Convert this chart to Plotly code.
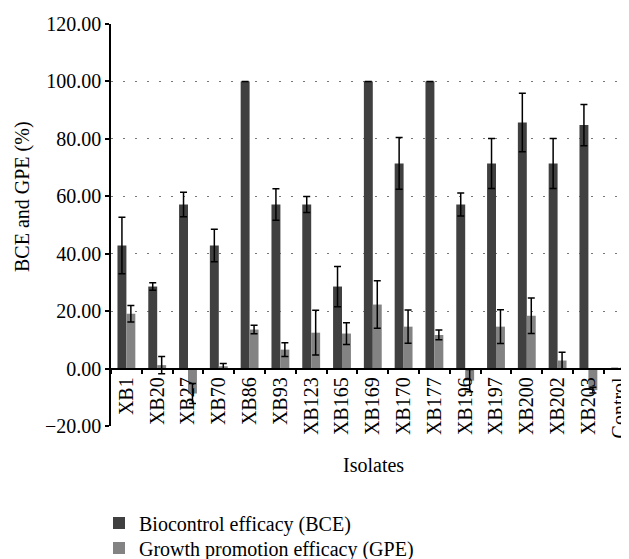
import plotly.graph_objects as go

isolates = ["XB1", "XB20", "XB27", "XB70", "XB86", "XB93", "XB123", "XB165", "XB169",
            "XB170", "XB177", "XB196", "XB197", "XB200", "XB202", "XB203", "Control"]
bce = [42.86, 28.57, 57.14, 42.86, 100, 57.14, 57.14, 28.57, 100,
       71.43, 100, 57.14, 71.43, 85.71, 71.43, 84.8, 0]
bce_err = [9.8, 1.3, 4.3, 5.7, 0, 5.5, 2.8, 7.0, 0,
           9.0, 0, 4.0, 8.7, 10.2, 8.7, 7.2, 0]
gpe = [19.1, 1.2, -8.7, 0.8, 13.6, 6.6, 12.5, 12.2, 22.3,
       14.6, 11.7, -4.2, 14.6, 18.4, 2.8, -7.5, 0]
gpe_err = [2.9, 3.0, 3.5, 1.0, 1.5, 2.4, 7.8, 3.8, 8.3,
           5.8, 1.7, 3.9, 5.9, 6.2, 2.9, 1.0, 0]
y_ticks = [-20, 0, 20, 40, 60, 80, 100, 120]
y_ticklabels = ["\u221220.00", "0.00", "20.00", "40.00", "60.00", "80.00", "100.00", "120.00"]

FONT = "Liberation Serif"
FS = 20
# page body has an 8px margin; figure sized so it fits the 629x559 window exactly
W, H = 621, 551
ML, MT, MB = 103, 16, 133
PW, PH = W - ML, H - MT - MB
CAT_W = 30.8

fig = go.Figure()
fig.add_trace(go.Bar(
    x=isolates, y=bce, name="Biocontrol efficacy (BCE)", legend="legend",
    marker=dict(color="#404040", line=dict(width=0)),
    error_y=dict(type="data", array=bce_err, visible=True, color="black",
                 thickness=1.5, width=3.5),
))
fig.add_trace(go.Bar(
    x=isolates, y=gpe, name="Growth promotion efficacy (GPE)", legend="legend2",
    marker=dict(color="#838383", line=dict(width=0)),
    error_y=dict(type="data", array=gpe_err, visible=True, color="black",
                 thickness=1.5, width=3.5),
))

ymin, ymax = -20, 120
zero_frac = (0 - ymin) / (ymax - ymin)

leg_common = dict(xref="container", yref="container", xanchor="left", yanchor="middle",
                  orientation="v", font=dict(family=FONT, size=FS), itemclick=False,
                  bgcolor="rgba(0,0,0,0)")

fig.update_layout(
    width=W, height=H,
    margin=dict(l=ML, r=0, t=MT, b=MB, pad=0, autoexpand=False),
    paper_bgcolor="white", plot_bgcolor="white",
    barmode="group", bargap=0.42, bargroupgap=0,
    font=dict(family=FONT, size=FS, color="black"),
    showlegend=True,
    legend=dict(x=91 / W, y=1 - 515 / H, **leg_common),
    legend2=dict(x=91 / W, y=1 - 540 / H, **leg_common),
    xaxis=dict(
        type="category",
        range=[-0.5, -0.5 + PW / CAT_W],
        anchor="free", position=zero_frac, automargin=False,
        showline=True, linecolor="black", linewidth=1.5,
        ticks="outside", ticklen=5, tickwidth=1.5, tickcolor="black",
        tickson="boundaries",
        tickangle=-90, tickfont=dict(family=FONT, size=FS, color="black"),
        showgrid=False, zeroline=False,
    ),
    yaxis=dict(
        range=[ymin, ymax], domain=[0, 1], automargin=False,
        tickvals=y_ticks, ticktext=y_ticklabels,
        showline=True, linecolor="black", linewidth=1.5,
        ticks="outside", ticklen=4, tickwidth=1.5, tickcolor="black",
        tickfont=dict(family=FONT, size=FS),
        showgrid=True, gridcolor="#777777", gridwidth=1.2, griddash="2px,10px",
        zeroline=False,
    ),
    annotations=[
        dict(text="BCE and GPE (%)", xref="paper", yref="paper",
             x=-(ML - 14) / PW, y=(H - MB - 189) / PH,
             xanchor="center", yanchor="middle", textangle=-90,
             showarrow=False, font=dict(family=FONT, size=FS)),
        dict(text="Isolates", xref="paper", yref="paper",
             x=(365 - ML) / PW, y=-(457 - (H - MB)) / PH,
             xanchor="center", yanchor="middle",
             showarrow=False, font=dict(family=FONT, size=FS)),
    ],
)

fig.write_html("out.html")
